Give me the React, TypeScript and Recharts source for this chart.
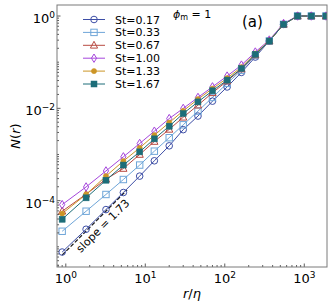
import React from 'react';
import { LineChart, Line, XAxis, YAxis } from 'recharts';

const FONT = '"DejaVu Sans", sans-serif';

// r/eta positions of the bins
const R_ETA = [0.9, 1.8, 3.2, 5.3, 8.5, 13, 20, 30, 46, 70, 107, 162, 242, 363, 549, 824, 1225, 1875];

// N(r) for each Stokes number
const N_ST017 = [7.7e-6, 2.4e-5, 6.4e-5, 1.5e-4, 3.4e-4, 7.3e-4, 1.54e-3, 3.45e-3, 6.8e-3, 1.43e-2, 2.9e-2, 6.0e-2, 0.129, 0.287, 0.66, 1, 1, 1];
const N_ST033 = [2.17e-5, 5.9e-5, 1.36e-4, 2.87e-4, 5.9e-4, 1.18e-3, 2.31e-3, 4.4e-3, 8.7e-3, 1.72e-2, 3.47e-2, 6.7e-2, 0.139, 0.287, 0.66, 1, 1, 1];
const N_ST067 = [5.9e-5, 1.38e-4, 2.9e-4, 4.97e-4, 1.0e-3, 1.91e-3, 3.5e-3, 6.4e-3, 1.17e-2, 2.17e-2, 3.9e-2, 7.1e-2, 0.143, 0.287, 0.66, 1, 1, 1];
const N_ST100 = [8.2e-5, 1.98e-4, 4.4e-4, 8.9e-4, 1.73e-3, 3.2e-3, 6.0e-3, 9.95e-3, 1.72e-2, 2.92e-2, 5.0e-2, 8.65e-2, 0.166, 0.302, 0.69, 1, 1, 1];
const N_ST133 = [5.25e-5, 1.36e-4, 3.4e-4, 7.2e-4, 1.39e-3, 2.62e-3, 4.9e-3, 8.8e-3, 1.58e-2, 2.67e-2, 4.5e-2, 7.8e-2, 0.154, 0.29, 0.66, 1, 1, 1];
const N_ST167 = [3.95e-5, 1.15e-4, 2.77e-4, 5.9e-4, 1.14e-3, 2.18e-3, 4.1e-3, 7.7e-3, 1.38e-2, 2.4e-2, 4.09e-2, 7.3e-2, 0.148, 0.287, 0.66, 1, 1, 1];

// reference slope line (two end points)
const SLOPE_X = [0.9, 5.9];
const SLOPE_N = [6.6e-6, 1.71e-4];

const X_DOMAIN = [0.775, 1932];
const Y_DOMAIN = [3.65e-6, 1.733];
const X_MAJOR = [1, 10, 100, 1000];
const Y_MAJOR = [1e-4, 1e-2, 1];

type Shape = 'circle' | 'square' | 'triangle' | 'diamond' | 'dot' | 'fsquare';

const SERIES: { name: string; values: number[]; color: string; shape: Shape }[] = [
  { name: 'St=0.17', values: N_ST017, color: '#3d4ea6', shape: 'circle' },
  { name: 'St=0.33', values: N_ST033, color: '#6ea5d8', shape: 'square' },
  { name: 'St=0.67', values: N_ST067, color: '#b84a42', shape: 'triangle' },
  { name: 'St=1.00', values: N_ST100, color: '#a546dc', shape: 'diamond' },
  { name: 'St=1.33', values: N_ST133, color: '#cc9526', shape: 'dot' },
  { name: 'St=1.67', values: N_ST167, color: '#1c6d78', shape: 'fsquare' },
];

function logTicks(lo: number, hi: number): number[] {
  const out: number[] = [];
  for (let e = -6; e <= 4; e++) {
    for (let m = 1; m <= 9; m++) {
      const v = m * Math.pow(10, e);
      if (v >= lo && v <= hi) out.push(v);
    }
  }
  return out;
}

const isMajor = (v: number, majors: number[]) => majors.some((t) => Math.abs(v / t - 1) < 1e-9);

function marker(shape: Shape, color: string, cx: number, cy: number, key?: string) {
  switch (shape) {
    case 'circle':
      return <circle key={key} cx={cx} cy={cy} r={3.3} fill="none" stroke={color} strokeWidth={1} />;
    case 'square':
      return <rect key={key} x={cx - 3.2} y={cy - 3.2} width={6.4} height={6.4} fill="none" stroke={color} strokeWidth={1} />;
    case 'triangle':
      return (
        <polygon
          key={key}
          points={`${cx},${cy - 4} ${cx - 3.6},${cy + 2.8} ${cx + 3.6},${cy + 2.8}`}
          fill="none"
          stroke={color}
          strokeWidth={1}
        />
      );
    case 'diamond':
      return (
        <polygon
          key={key}
          points={`${cx},${cy - 4.2} ${cx + 2.6},${cy} ${cx},${cy + 4.2} ${cx - 2.6},${cy}`}
          fill="none"
          stroke={color}
          strokeWidth={1}
        />
      );
    case 'dot':
      return <circle key={key} cx={cx} cy={cy} r={2.6} fill={color} stroke={color} strokeWidth={0.5} />;
    default:
      return <rect key={key} x={cx - 3} y={cy - 3} width={6} height={6} fill={color} stroke={color} strokeWidth={0.5} />;
  }
}

const XTick = (props: any) => {
  const { x, y, payload } = props;
  const v = payload.value;
  const major = isMajor(v, X_MAJOR);
  const exp = Math.round(Math.log10(v));
  return (
    <g>
      <line x1={x} x2={x} y1={y} y2={y - (major ? 3.5 : 2)} stroke="#333" strokeWidth={0.8} />
      {major && (
        <text x={x} y={y + 16} textAnchor="middle" fontSize={13} fill="#000" fontFamily={FONT}>
          10
          <tspan dy={-5} fontSize={9}>
            {exp}
          </tspan>
        </text>
      )}
    </g>
  );
};

const YTick = (props: any) => {
  const { x, y, payload } = props;
  const v = payload.value;
  const major = isMajor(v, Y_MAJOR);
  const exp = Math.round(Math.log10(v));
  return (
    <g>
      <line x1={x} x2={x + (major ? 3.5 : 2)} y1={y} y2={y} stroke="#333" strokeWidth={0.8} />
      {major && (
        <text x={x - 2} y={y + 7} textAnchor="end" fontSize={13} fill="#000" fontFamily={FONT}>
          10
          <tspan dy={-5} fontSize={9}>
            {exp < 0 ? `\u2212${-exp}` : exp}
          </tspan>
        </text>
      )}
    </g>
  );
};

export default function App() {
  const slopeData = SLOPE_X.map((x, i) => ({ x, y: SLOPE_N[i] }));
  return (
    <div style={{ position: 'absolute', left: 0, top: 0, width: 332, height: 305, background: '#fff' }}>
      <LineChart width={332} height={305} margin={{ top: 5, right: 5, left: 0, bottom: 0 }}>
        <XAxis
          dataKey="x"
          type="number"
          scale="log"
          domain={X_DOMAIN}
          allowDataOverflow
          ticks={logTicks(X_DOMAIN[0], X_DOMAIN[1])}
          interval={0}
          tick={<XTick />}
          tickLine={false}
          axisLine={false}
          tickSize={0}
          tickMargin={0}
          height={38}
        />
        <YAxis
          dataKey="y"
          type="number"
          scale="log"
          domain={Y_DOMAIN}
          allowDataOverflow
          ticks={logTicks(Y_DOMAIN[0], Y_DOMAIN[1])}
          interval={0}
          tick={<YTick />}
          tickLine={false}
          axisLine={false}
          tickSize={0}
          tickMargin={0}
          width={57}
        />
        <Line
          data={slopeData}
          dataKey="y"
          stroke="#222"
          strokeWidth={1.3}
          strokeDasharray="4 2"
          dot={false}
          activeDot={false}
          isAnimationActive={false}
        />
        {SERIES.map((s) => (
          <Line
            key={s.name}
            data={R_ETA.map((x, i) => ({ x, y: s.values[i] }))}
            dataKey="y"
            name={s.name}
            stroke={s.color}
            strokeWidth={1}
            dot={(p: any) => marker(s.shape, s.color, p.cx, p.cy, `${s.name}-${p.index}`)}
            activeDot={false}
            isAnimationActive={false}
          />
        ))}
      </LineChart>
      <svg
        width={332}
        height={305}
        style={{ position: 'absolute', left: 0, top: 0, pointerEvents: 'none' }}
        fontFamily={FONT}
      >
        <rect x={57} y={5} width={270} height={262} fill="none" stroke="#7a7a7a" strokeWidth={1} />
        {SERIES.map((s, i) => {
          const cy = 19.5 + i * 12.9;
          return (
            <g key={s.name}>
              <line x1={83} x2={105} y1={cy} y2={cy} stroke={s.color} strokeWidth={1} />
              {marker(s.shape, s.color, 94, cy)}
              <text x={115} y={cy + 4} fontSize={11} fill="#000">
                {s.name}
              </text>
            </g>
          );
        })}
        <text x={173} y={17.5} fontSize={11} fill="#000">
          <tspan fontStyle="italic">ϕ</tspan>
          <tspan dy={2.5} fontSize={8}>
            m
          </tspan>
          <tspan dy={-2.5}> = 1</tspan>
        </text>
        <text x={242} y={26.5} fontSize={15} fill="#000">
          (a)
        </text>
        <text
          x={103}
          y={226}
          fontSize={11}
          fill="#000"
          textAnchor="middle"
          dominantBaseline="central"
          transform="rotate(-45 103 226)"
        >
          slope = 1.73
        </text>
        <text x={192} y={298} fontSize={13} fill="#000" textAnchor="middle">
          <tspan fontStyle="italic">r</tspan>/<tspan fontStyle="italic">η</tspan>
        </text>
        <text
          x={15}
          y={136}
          fontSize={13}
          fill="#000"
          textAnchor="middle"
          dominantBaseline="central"
          transform="rotate(-90 15 136)"
        >
          <tspan fontStyle="italic">N</tspan>(<tspan fontStyle="italic">r</tspan>)
        </text>
      </svg>
    </div>
  );
}
